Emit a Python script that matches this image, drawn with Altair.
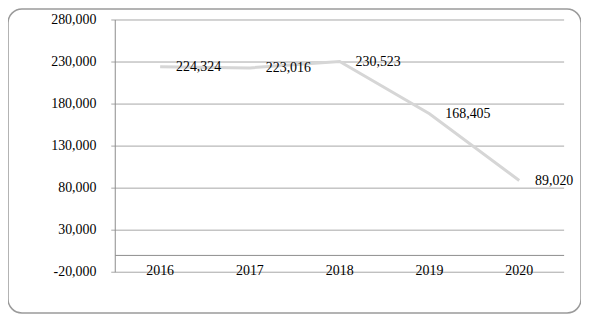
import altair as alt
import pandas as pd

years = ["2016", "2017", "2018", "2019", "2020"]
values = [224324, 223016, 230523, 168405, 89020]
y_ticks = [-20000, 30000, 80000, 130000, 180000, 230000, 280000]
y_tick_labels = ["-20,000", "30,000", "80,000", "130,000", "180,000", "230,000", "280,000"]

df = pd.DataFrame({"year": years, "value": values,
                   "label": [f"{v:,}" for v in values]})
ticks = pd.DataFrame({"tick": y_ticks, "label": y_tick_labels})
cats = pd.DataFrame({"year": years})
axis_span = pd.DataFrame({"lo": [y_ticks[0]], "hi": [y_ticks[-1]], "zero": [0]})

FONT = "Liberation Serif"
ys = alt.Scale(domain=[-20000, 280000], range=[265, 11], nice=False, zero=False)
xs = alt.Scale(domain=years, range=[108, 560], paddingInner=0, paddingOuter=0)

X = alt.X("year:N", scale=xs, axis=None)

grid = alt.Chart(ticks).mark_rule(color="#a6a6a6", strokeWidth=1).encode(
    y=alt.Y("tick:Q", scale=ys, axis=None),
    x=alt.value(104), x2=alt.value(560))

ylabels = alt.Chart(ticks).mark_text(align="right", baseline="middle", font=FONT,
                                     fontSize=14, color="#000").encode(
    y=alt.Y("tick:Q", scale=ys, axis=None),
    x=alt.value(89), text="label:N")

yaxis = alt.Chart(axis_span).mark_rule(color="#8c8c8c", strokeWidth=1).encode(
    x=alt.value(108),
    y=alt.Y("hi:Q", scale=ys, axis=None), y2="lo:Q")

zero = alt.Chart(axis_span).mark_rule(color="#8c8c8c", strokeWidth=1).encode(
    y=alt.Y("zero:Q", scale=ys, axis=None),
    x=alt.value(108), x2=alt.value(560))

xlabels = alt.Chart(cats).mark_text(align="center", baseline="middle", font=FONT,
                                    fontSize=14, color="#000").encode(
    x=X, y=alt.value(264), text="year:N")

line = alt.Chart(df).mark_line(color="#d6d6d6", strokeWidth=3).encode(
    x=X, y=alt.Y("value:Q", scale=ys, axis=None))

dlabels = alt.Chart(df).mark_text(align="left", baseline="middle", dx=16, font=FONT,
                                  fontSize=14, color="#000").encode(
    x=X, y=alt.Y("value:Q", scale=ys, axis=None), text="label:N")

chart = alt.layer(grid, zero, yaxis, ylabels, xlabels, line, dlabels).properties(
    width=577, height=306, padding=0, autosize="none", background="white"
).configure_view(
    stroke="#9a9a9a", strokeWidth=1.5, cornerRadius=14
)

chart.save("out.html", embed_options={"renderer": "svg", "actions": False})
